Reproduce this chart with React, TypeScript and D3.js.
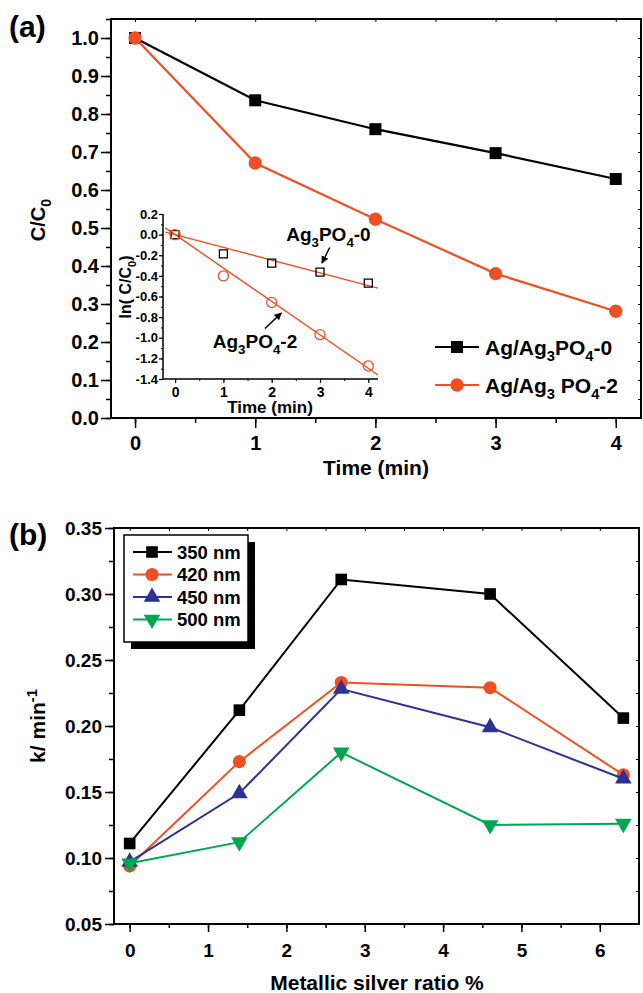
import React, { useEffect, useRef } from "react";
import * as d3 from "d3";

// panel (a): C/C0 vs time
const timeMin = [0, 1, 2, 3, 4];
const ratioAg0 = [1.0, 0.836, 0.76, 0.697, 0.629];
const ratioAg2 = [1.0, 0.671, 0.523, 0.38, 0.281];
// inset: ln(C/C0)
const lnAg0 = [0, -0.186, -0.277, -0.363, -0.47];
const lnAg2 = [0, -0.4, -0.658, -0.97, -1.274];

// panel (b): k vs metallic silver ratio
const silverRatio = [0, 1.4, 2.7, 4.6, 6.3];
const k350 = [0.111, 0.212, 0.311, 0.3, 0.206];
const k420 = [0.094, 0.173, 0.233, 0.229, 0.163];
const k450 = [0.097, 0.149, 0.228, 0.199, 0.16];
const k500 = [0.096, 0.112, 0.18, 0.125, 0.126];
const waveLabels = ["350 nm", "420 nm", "450 nm", "500 nm"];

const FONT = "'Liberation Sans', Arial, Helvetica, sans-serif";
const ORANGE = "#ef4f23";
const BLUE = "#2c3192";
const GREEN = "#00a651";

type Part = { t: string; sub?: boolean; sup?: boolean };

function ticksOf(lo: number, hi: number, step: number) {
  const out: number[] = [];
  for (let v = lo; v <= hi + 1e-9; v += step) out.push(+v.toFixed(4));
  return out;
}

// writes text with sub/superscripts into a <text> selection
function richText(sel: any, parts: Part[], fs: number) {
  let cur = 0;
  parts.forEach((p) => {
    const want = p.sub ? fs * 0.3 : p.sup ? -fs * 0.4 : 0;
    const ts = sel.append("tspan").attr("dy", want - cur).text(p.t);
    if (p.sub || p.sup) ts.attr("font-size", fs * 0.7);
    cur = want;
  });
  return sel;
}

function label(g: any, x: number, y: number, fs: number, parts: Part[], anchor = "start", rotate = false) {
  const t = g
    .append("text")
    .attr("font-family", FONT)
    .attr("font-weight", "bold")
    .attr("font-size", fs)
    .attr("fill", "#000")
    .attr("text-anchor", anchor);
  if (rotate) t.attr("transform", `translate(${x},${y}) rotate(-90)`);
  else t.attr("x", x).attr("y", y);
  return richText(t, parts, fs);
}

function axisLayer(g: any, axis: any, transform: string, fs: number, sw: number) {
  const a = g.append("g").attr("transform", transform).call(axis);
  a.select(".domain").remove();
  a.selectAll("line").attr("stroke", "#000").attr("stroke-width", sw);
  a.selectAll("text")
    .attr("font-family", FONT)
    .attr("font-weight", "bold")
    .attr("font-size", fs)
    .attr("fill", "#000");
  return a;
}

function drawMarker(g: any, shape: string, x: number, y: number, color: string, size: number, open = false) {
  const types: any = {
    square: d3.symbolSquare,
    circle: d3.symbolCircle,
    up: d3.symbolTriangle,
    down: d3.symbolTriangle,
  };
  g.append("path")
    .attr("d", d3.symbol().type(types[shape]).size(size)())
    .attr("transform", `translate(${x},${y})${shape === "down" ? " rotate(180)" : ""}`)
    .attr("fill", open ? "none" : color)
    .attr("stroke", open ? color : "none")
    .attr("stroke-width", 1.3);
}

function drawPanelA(svg: any) {
  const g = svg.append("g");
  const x = d3.scaleLinear().domain([-0.2, 4.21]).range([111, 641]);
  const y = d3.scaleLinear().domain([0, 1.05]).range([418, 19]);
  const fmt1 = (d: any) => (+d).toFixed(1);

  axisLayer(g, d3.axisLeft(y).tickValues(ticksOf(0, 1.05, 0.05)).tickSize(5).tickFormat(() => ""), "translate(111,0)", 20, 1.5);
  axisLayer(g, d3.axisLeft(y).tickValues(ticksOf(0, 1, 0.1)).tickSize(10).tickPadding(2).tickFormat(fmt1), "translate(111,0)", 20, 1.5);
  axisLayer(g, d3.axisBottom(x).tickValues(ticksOf(0, 4, 0.5)).tickSize(5).tickFormat(() => ""), "translate(0,418)", 20, 1.5);
  axisLayer(g, d3.axisBottom(x).tickValues(timeMin).tickSize(10).tickPadding(8).tickFormat((d: any) => String(d)), "translate(0,418)", 20, 1.5);
  axisLayer(g, d3.axisTop(x).tickValues(ticksOf(0, 4, 0.5)).tickSize(-3).tickFormat(() => ""), "translate(0,19)", 20, 1);
  axisLayer(g, d3.axisRight(y).tickValues(ticksOf(0, 1.05, 0.05)).tickSize(-3).tickFormat(() => ""), "translate(641,0)", 20, 1);

  g.append("rect").attr("x", 111).attr("y", 19).attr("width", 530).attr("height", 399)
    .attr("fill", "none").attr("stroke", "#000").attr("stroke-width", 2);

  label(g, 9, 37, 30, [{ t: "(a)" }]);
  label(g, 376, 475, 21, [{ t: "Time (min)" }], "middle");
  label(g, 45, 220, 20, [{ t: "C/C" }, { t: "0", sub: true }], "middle", true);

  const line = d3.line<number>().x((_, i) => x(timeMin[i]));
  const series = [
    { vals: ratioAg0, color: "#000", shape: "square", size: 144 },
    { vals: ratioAg2, color: ORANGE, shape: "circle", size: 140 },
  ];
  series.forEach((s) => {
    g.append("path")
      .attr("d", line.y((d) => y(d))(s.vals))
      .attr("fill", "none").attr("stroke", s.color).attr("stroke-width", 2.2);
    s.vals.forEach((v, i) => drawMarker(g, s.shape, x(timeMin[i]), y(v), s.color, s.size));
  });

  // legend
  const legendParts: Part[][] = [
    [{ t: "Ag/Ag" }, { t: "3", sub: true }, { t: "PO" }, { t: "4", sub: true }, { t: "-0" }],
    [{ t: "Ag/Ag" }, { t: "3", sub: true }, { t: " PO" }, { t: "4", sub: true }, { t: "-2" }],
  ];
  series.forEach((s, i) => {
    const ly = 347 + i * 38;
    g.append("line").attr("x1", 435).attr("x2", 479).attr("y1", ly).attr("y2", ly)
      .attr("stroke", s.color).attr("stroke-width", 2.2);
    drawMarker(g, s.shape, 457, ly, s.color, s.size);
    label(g, 485, ly + 7.5, 21, legendParts[i]);
  });

  // inset
  const ix = d3.scaleLinear().domain([-0.25, 4.2]).range([163, 378]);
  const iy = d3.scaleLinear().domain([-1.4, 0.2]).range([379, 214]);
  const ig = g.append("g");
  axisLayer(ig, d3.axisLeft(iy).tickValues(ticksOf(-1.4, 0.2, 0.1)).tickSize(2).tickFormat(() => ""), "translate(163,0)", 13, 1);
  axisLayer(ig, d3.axisLeft(iy).tickValues(ticksOf(-1.4, 0.2, 0.2)).tickSize(4).tickPadding(1).tickFormat(fmt1), "translate(163,0)", 13, 1.2);
  axisLayer(ig, d3.axisBottom(ix).tickValues(ticksOf(0, 4, 0.5)).tickSize(2).tickFormat(() => ""), "translate(0,379)", 13, 1);
  axisLayer(ig, d3.axisBottom(ix).tickValues(timeMin).tickSize(4).tickPadding(4).tickFormat((d: any) => String(d)), "translate(0,379)", 14, 1.2);
  ig.append("path").attr("d", "M163,214V379H378").attr("fill", "none").attr("stroke", "#000").attr("stroke-width", 1.5);
  label(ig, 270, 413, 17, [{ t: "Time (min)" }], "middle");
  label(ig, 131, 287, 16, [{ t: "ln( C/C" }, { t: "0", sub: true }, { t: ")" }], "middle", true);

  const fits = [lnAg0, lnAg2].map((vals) => d3.sum(vals, (v, i) => v * timeMin[i]) / d3.sum(timeMin, (t) => t * t));
  fits.forEach((k) => {
    ig.append("line")
      .attr("x1", ix(-0.2)).attr("y1", iy(k * -0.2))
      .attr("x2", ix(4.2)).attr("y2", iy(k * 4.2))
      .attr("stroke", ORANGE).attr("stroke-width", 1.4);
  });
  lnAg0.forEach((v, i) => drawMarker(ig, "square", ix(timeMin[i]), iy(v), "#000", 64, true));
  lnAg2.forEach((v, i) => drawMarker(ig, "circle", ix(timeMin[i]), iy(v), ORANGE, 80, true));

  // annotations
  svg.append("defs").append("marker")
    .attr("id", "arr").attr("viewBox", "0 0 10 10").attr("refX", 9).attr("refY", 5)
    .attr("markerWidth", 5).attr("markerHeight", 5).attr("orient", "auto")
    .append("path").attr("d", "M0,0L10,5L0,10z").attr("fill", "#000");
  const arrows = [
    { from: [3.2, -0.125], to: [3.04, -0.275] },
    { from: [1.86, -0.91], to: [2.2, -0.76] },
  ];
  arrows.forEach((a) => {
    ig.append("line")
      .attr("x1", ix(a.from[0])).attr("y1", iy(a.from[1]))
      .attr("x2", ix(a.to[0])).attr("y2", iy(a.to[1]))
      .attr("stroke", "#000").attr("stroke-width", 1.5).attr("marker-end", "url(#arr)");
  });
  label(ig, ix(2.3), iy(-0.06), 19, [{ t: "Ag" }, { t: "3", sub: true }, { t: "PO" }, { t: "4", sub: true }, { t: "-0" }]);
  label(ig, ix(0.78), iy(-1.1), 19, [{ t: "Ag" }, { t: "3", sub: true }, { t: "PO" }, { t: "4", sub: true }, { t: "-2" }]);
}

function drawPanelB(svg: any) {
  const g = svg.append("g");
  const x = d3.scaleLinear().domain([-0.2, 6.5]).range([114, 639]);
  const y = d3.scaleLinear().domain([0.05, 0.35]).range([924, 528]);

  axisLayer(g, d3.axisLeft(y).tickValues(ticksOf(0.05, 0.35, 0.025)).tickSize(5).tickFormat(() => ""), "translate(114,0)", 19, 1.5);
  axisLayer(g, d3.axisLeft(y).tickValues(ticksOf(0.05, 0.35, 0.05)).tickSize(9).tickPadding(3).tickFormat((d: any) => (+d).toFixed(2)), "translate(114,0)", 19, 1.5);
  axisLayer(g, d3.axisBottom(x).tickValues(ticksOf(0, 6, 0.5)).tickSize(4).tickFormat(() => ""), "translate(0,924)", 19, 1.5);
  axisLayer(g, d3.axisBottom(x).tickValues(ticksOf(0, 6, 1)).tickSize(8).tickPadding(12).tickFormat((d: any) => String(d)), "translate(0,924)", 19, 1.5);
  axisLayer(g, d3.axisTop(x).tickValues(ticksOf(0, 6.5, 0.5)).tickSize(-3).tickFormat(() => ""), "translate(0,528)", 19, 1);
  axisLayer(g, d3.axisRight(y).tickValues(ticksOf(0.05, 0.35, 0.025)).tickSize(-3).tickFormat(() => ""), "translate(639,0)", 19, 1);

  g.append("rect").attr("x", 114).attr("y", 528).attr("width", 525).attr("height", 396)
    .attr("fill", "none").attr("stroke", "#000").attr("stroke-width", 2);

  label(g, 9, 545, 30, [{ t: "(b)" }]);
  label(g, 377, 990, 21, [{ t: "Metallic silver ratio %" }], "middle");
  label(g, 45, 726, 21, [{ t: "k/ min" }, { t: "-1", sup: true }], "middle", true);

  const series = [
    { vals: k350, color: "#000", shape: "square", size: 135 },
    { vals: k420, color: ORANGE, shape: "circle", size: 135 },
    { vals: k450, color: BLUE, shape: "up", size: 120 },
    { vals: k500, color: GREEN, shape: "down", size: 120 },
  ];
  const line = d3.line<number>().x((_, i) => x(silverRatio[i])).y((d) => y(d));
  series.forEach((s) => {
    g.append("path").attr("d", line(s.vals)).attr("fill", "none").attr("stroke", s.color).attr("stroke-width", 2);
    s.vals.forEach((v, i) => drawMarker(g, s.shape, x(silverRatio[i]), y(v), s.color, s.size));
  });

  // legend with drop shadow
  g.append("rect").attr("x", 131).attr("y", 542).attr("width", 124).attr("height", 107).attr("fill", "#000");
  g.append("rect").attr("x", 124).attr("y", 535).attr("width", 124).attr("height", 107)
    .attr("fill", "#fff").attr("stroke", "#000").attr("stroke-width", 1.5);
  series.forEach((s, i) => {
    const ly = 552 + i * 22.5;
    g.append("line").attr("x1", 133).attr("x2", 172).attr("y1", ly).attr("y2", ly).attr("stroke", s.color).attr("stroke-width", 2);
    drawMarker(g, s.shape, 152, ly, s.color, s.size);
    label(g, 177, ly + 6.5, 18.5, [{ t: waveLabels[i] }]);
  });
}

export default function App() {
  const ref = useRef<SVGSVGElement>(null);
  useEffect(() => {
    const svg = d3.select(ref.current);
    svg.selectAll("*").remove();
    drawPanelA(svg);
    drawPanelB(svg);
  }, []);
  return (
    <svg
      ref={ref}
      width={643}
      height={993}
      style={{ position: "absolute", left: 0, top: 0, background: "#fff" }}
    />
  );
}
